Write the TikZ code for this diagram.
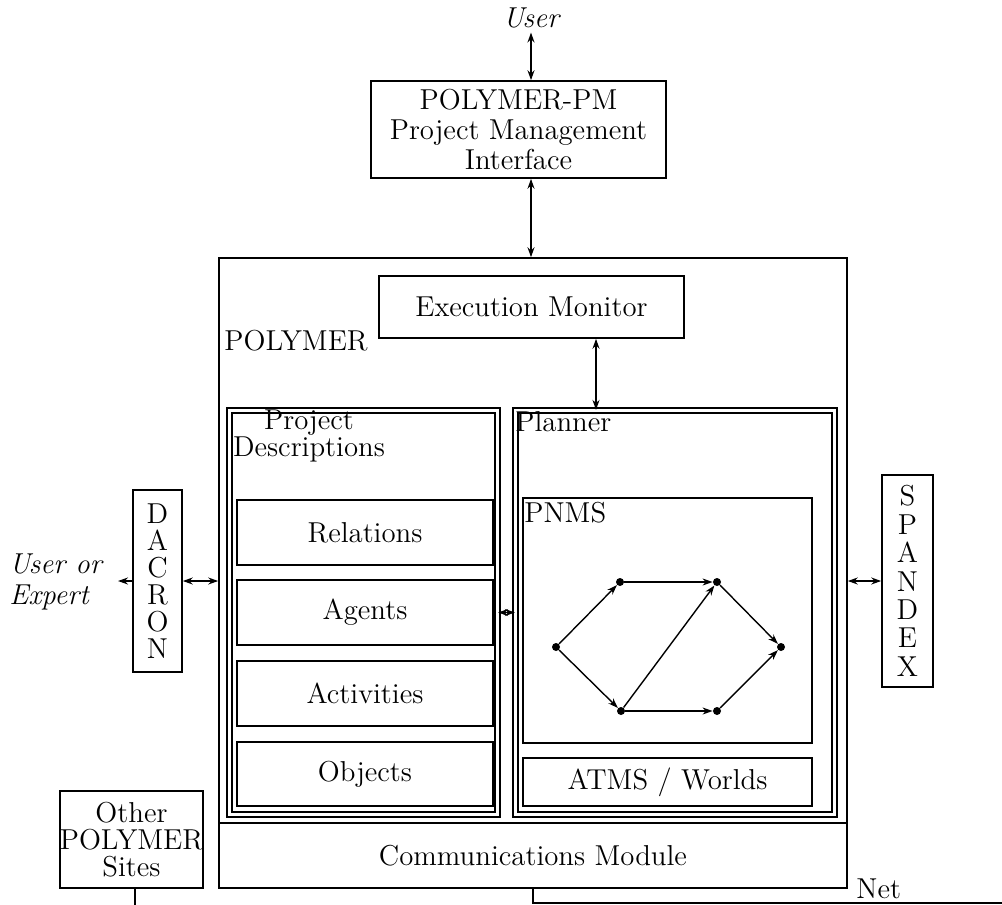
\documentclass[tikz,border=0pt]{standalone}
\usepackage{tikz}
\usetikzlibrary{arrows.meta}

\tikzset{
  blk/.style={draw, line width=0.8pt, inner sep=0pt},
  dbl/.style={draw, line width=0.6pt, double, double distance=1.9pt, inner sep=0pt},
  txt/.style={inner sep=0pt, align=center},
  dot/.style={circle, fill, inner sep=0pt, minimum size=4pt},
  link/.style={line width=0.8pt, <->},
  >={Stealth[length=5pt, width=3.5pt]}
}

\begin{document}
\begin{tikzpicture}[x=0.5pt, y=-0.5pt, font=\fontsize{14.4}{15}\selectfont]
\useasboundingbox (0,0) rectangle (1002,905);

% top: user and project management
\node[txt, font=\fontsize{14.4}{15}\selectfont\itshape, inner sep=2pt] (user) at (531,18) {User};
\node[blk, minimum width=147.5pt, minimum height=48.5pt, align=center] (pm) at (518.5,129.5)
  {POLYMER-PM\\Project Management\\Interface};

% polymer frame
\node[blk, minimum width=314pt, minimum height=282.5pt] (polymer) at (533,540.5) {};
\node[txt, anchor=west] (polylbl) at (224,341) {POLYMER};
\node[blk, minimum width=152.5pt, minimum height=31pt] (em) at (531.5,307) {Execution Monitor};
\node[blk, minimum width=314pt, minimum height=32.5pt] (comm) at (533,855.5) {Communications Module};

% project descriptions
\node[dbl, minimum width=134pt, minimum height=202pt] (pd) at (363.5,612.5) {};
\node[txt, font=\fontsize{14.4}{13.5}\selectfont] (pdlbl) at (309,436) {Project\\Descriptions};
\node[blk, minimum width=128pt, minimum height=32.5pt] (rel) at (365,532.5) {Relations};
\node[blk, minimum width=128pt, minimum height=32.5pt] (agt) at (365,612.5) {Agents};
\node[blk, minimum width=128pt, minimum height=32.5pt] (act) at (365,693.5) {Activities};
\node[blk, minimum width=128pt, minimum height=32pt] (obj) at (365,774) {Objects};

% planner
\node[dbl, minimum width=159.5pt, minimum height=202pt] (pl) at (675,612.5) {};
\node[txt, anchor=west] (pllbl) at (515,422) {Planner};
\node[blk, minimum width=144.5pt, minimum height=122.5pt] (pnms) at (667.5,620.5) {};
\node[txt, anchor=west] (pnmslbl) at (524,513) {PNMS};
\node[blk, minimum width=144.5pt, minimum height=24pt] (atms) at (667.5,782) {ATMS / Worlds};

% network inside PNMS
\node[dot] (na) at (556,647) {};
\node[dot] (nb) at (620,582) {};
\node[dot] (nc) at (717,582) {};
\node[dot] (nd) at (781,647) {};
\node[dot] (ne) at (621,711) {};
\node[dot] (nf) at (717,711) {};
\draw[line width=0.7pt, ->] (na) -- (nb);
\draw[line width=0.7pt, ->] (nb) -- (nc);
\draw[line width=0.7pt, ->] (nc) -- (nd);
\draw[line width=0.7pt, ->] (na) -- (ne);
\draw[line width=0.7pt, ->] (ne) -- (nc);
\draw[line width=0.7pt, ->] (ne) -- (nf);
\draw[line width=0.7pt, ->] (nf) -- (nd);

% side modules
\node[blk, minimum width=24.5pt, minimum height=91pt, align=center,
  font=\fontsize{14.4}{13.5}\selectfont] (dacron) at (157.5,581) {D\\A\\C\\R\\O\\N};
\node[blk, minimum width=25.5pt, minimum height=106pt, align=center,
  font=\fontsize{14.4}{14.2}\selectfont] (spandex) at (907.5,581) {S\\P\\A\\N\\D\\E\\X};
\node[txt, anchor=west, align=left, font=\fontsize{14.4}{15.5}\selectfont\itshape] (expert) at (9,582) {User or\\Expert};
\coordinate (ueend) at (118,581);

\node[blk, minimum width=71.5pt, minimum height=48.5pt, align=center,
  font=\fontsize{14.4}{13.5}\selectfont] (other) at (131.5,839.5) {Other\\POLYMER\\Sites};

% net
\coordinate (sitesend) at (135,905);
\coordinate (netl) at (533,903);
\coordinate (netr) at (1002,903);
\node[txt, anchor=south west] (net) at (856,899) {Net};

% connectors
\draw[link] (user.south) -- (user.south |- pm.north);
\draw[link] (pm.south -| user) -- (user |- polymer.north);
\draw[link] ([xshift=32.25pt]em.south) -- ([xshift=32.25pt]em.south |- pl.north);
\draw[link] (pd.east) -- (pl.west);
\draw[link] (dacron.east) -- (dacron.east -| polymer.west);
\draw[line width=0.8pt, ->] (dacron.west) -- (ueend);
\draw[link] (polymer.east |- spandex.west) -- (spandex.west);
\draw[line width=0.8pt] (other.south -| sitesend) -- (sitesend);
\draw[line width=0.8pt] (comm.south -| netl) -- (netl) -- (netr);
\end{tikzpicture}
\end{document}
